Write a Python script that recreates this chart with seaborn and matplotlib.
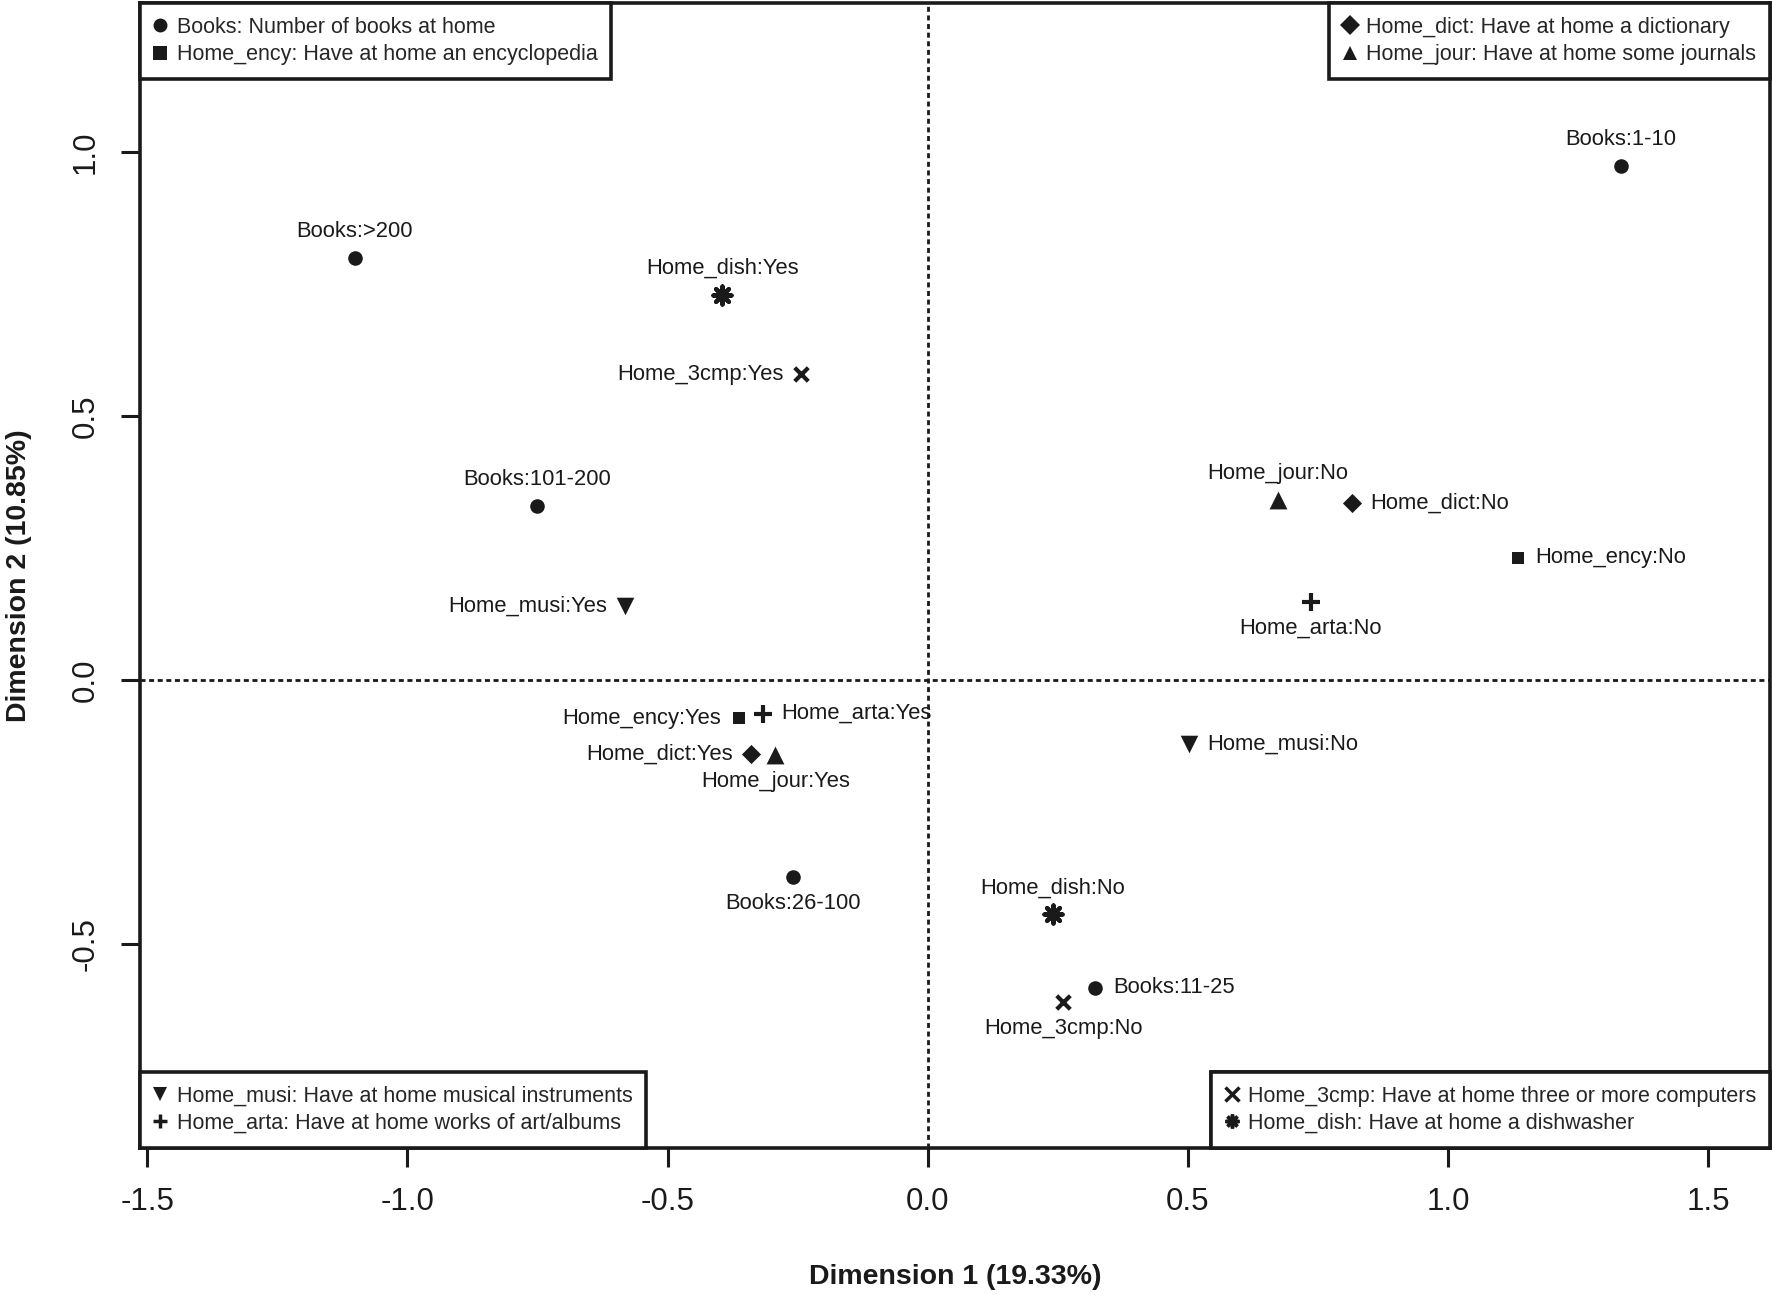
import matplotlib
matplotlib.use("Agg")
import matplotlib.pyplot as plt
from matplotlib.lines import Line2D
import pandas as pd
import seaborn as sns

# category coordinates
labels = ["Books:1-10", "Books:>200", "Home_dish:Yes", "Home_3cmp:Yes",
          "Books:101-200", "Home_musi:Yes", "Home_jour:No", "Home_dict:No",
          "Home_ency:No", "Home_arta:No", "Home_ency:Yes", "Home_arta:Yes",
          "Home_dict:Yes", "Home_jour:Yes", "Home_musi:No", "Books:26-100",
          "Home_dish:No", "Books:11-25", "Home_3cmp:No"]
dim1 = [1.332, -1.101, -0.395, -0.243, -0.750, -0.582, 0.673, 0.815, 1.134,
        0.736, -0.363, -0.317, -0.339, -0.293, 0.502, -0.259, 0.241, 0.322, 0.261]
dim2 = [0.974, 0.799, 0.729, 0.579, 0.329, 0.139, 0.340, 0.335, 0.231,
        0.147, -0.073, -0.064, -0.141, -0.143, -0.122, -0.374, -0.444, -0.583, -0.611]
variables = [l.split(":")[0] for l in labels]
# label side: 1 below, 2 left, 3 above, 4 right (like R's text pos)
label_pos = [3, 3, 3, 2, 3, 2, 3, 4, 4, 1, 2, 4, 2, 1, 4, 1, 3, 4, 1]

legend_groups = [
    ("upper left", ["Books", "Home_ency"]),
    ("upper right", ["Home_dict", "Home_jour"]),
    ("lower left", ["Home_musi", "Home_arta"]),
    ("lower right", ["Home_3cmp", "Home_dish"]),
]
descriptions = {
    "Books": "Books: Number of books at home",
    "Home_ency": "Home_ency: Have at home an encyclopedia",
    "Home_dict": "Home_dict: Have at home a dictionary",
    "Home_jour": "Home_jour: Have at home some journals",
    "Home_musi": "Home_musi: Have at home musical instruments",
    "Home_arta": "Home_arta: Have at home works of art/albums",
    "Home_3cmp": "Home_3cmp: Have at home three or more computers",
    "Home_dish": "Home_dish: Have at home a dishwasher",
}

markers = {"Books": "o", "Home_ency": "s", "Home_dict": "D", "Home_jour": "^",
           "Home_musi": "v", "Home_arta": "+", "Home_3cmp": "x", "Home_dish": (8, 2, 0)}
msizes = {"Books": 110, "Home_ency": 80, "Home_dict": 95, "Home_jour": 165,
          "Home_musi": 160, "Home_arta": 170, "Home_3cmp": 95, "Home_dish": 170}
ink = "#1a1a1a"

df = pd.DataFrame({"label": labels, "dim1": dim1, "dim2": dim2, "variable": variables})

sns.set_style("white")
plt.rcParams["font.family"] = ["Liberation Sans", "DejaVu Sans"]

fig = plt.figure(figsize=(17.72, 12.95), dpi=100)
ax = fig.add_axes([140 / 1772, 1 - 1148 / 1295, (1770 - 140) / 1772, (1148 - 3) / 1295])

ax.axhline(0, color=ink, lw=2, ls=(0, (1.8, 1.3)), zorder=1)
ax.axvline(0, color=ink, lw=2, ls=(0, (1.8, 1.3)), zorder=1)

for var, sub in df.groupby("variable", sort=False):
    m = markers[var]
    if m in ("+", "x") or isinstance(m, tuple):
        sns.scatterplot(data=sub, x="dim1", y="dim2", marker=m, s=msizes[var],
                        color=ink, linewidth=3, ax=ax, zorder=3)
    else:
        sns.scatterplot(data=sub, x="dim1", y="dim2", marker=m, s=msizes[var],
                        color=ink, edgecolor=ink, linewidth=0, ax=ax, zorder=3)

offsets = {1: (0, -19, "center", "center"), 2: (-13, 0, "right", "center"),
           3: (0, 19, "center", "center"), 4: (13, 0, "left", "center")}
for lab, x, y, p in zip(labels, dim1, dim2, label_pos):
    dx, dy, ha, va = offsets[p]
    ax.annotate(lab, (x, y), xytext=(dx, dy), textcoords="offset points",
                ha=ha, va=va, fontsize=15.8, color=ink, zorder=4)

ax.set_xlim(-1.514, 1.619)
ax.set_ylim(-0.887, 1.282)
ax.set_xticks([-1.5, -1.0, -0.5, 0.0, 0.5, 1.0, 1.5])
ax.set_yticks([-0.5, 0.0, 0.5, 1.0])
ax.set_xticklabels(["-1.5", "-1.0", "-0.5", "0.0", "0.5", "1.0", "1.5"])
ax.set_yticklabels(["-0.5", "0.0", "0.5", "1.0"], rotation=90, va="center")
ax.tick_params(axis="both", direction="out", length=14, width=2.2, color=ink,
               labelsize=22.5, labelcolor=ink, pad=14, bottom=True, left=True)
for s in ax.spines.values():
    s.set_linewidth(2.6)
    s.set_color(ink)

ax.set_xlabel("Dimension 1 (19.33%)", fontsize=20.5, fontweight="bold", color=ink, labelpad=34)
ax.set_ylabel("Dimension 2 (10.85%)", fontsize=20.5, fontweight="bold", color=ink, labelpad=28)

for loc, group in legend_groups:
    handles = []
    for var in group:
        m = markers[var]
        line_art = m in ("+", "x") or isinstance(m, tuple)
        handles.append(Line2D([], [], ls="none", marker=m, color=ink, markersize=10,
                              markeredgewidth=2.5 if line_art else 0))
    leg = ax.legend(handles, [descriptions[v] for v in group], loc=loc,
                    borderaxespad=0, frameon=True, fancybox=False, fontsize=15.5,
                    handlelength=0.6, handletextpad=0.45, borderpad=0.65,
                    labelspacing=0.3, framealpha=1)
    leg.get_frame().set_edgecolor(ink)
    leg.get_frame().set_linewidth(2.6)
    leg.set_zorder(5)
    ax.add_artist(leg)

fig.savefig("out.png", dpi=100)
